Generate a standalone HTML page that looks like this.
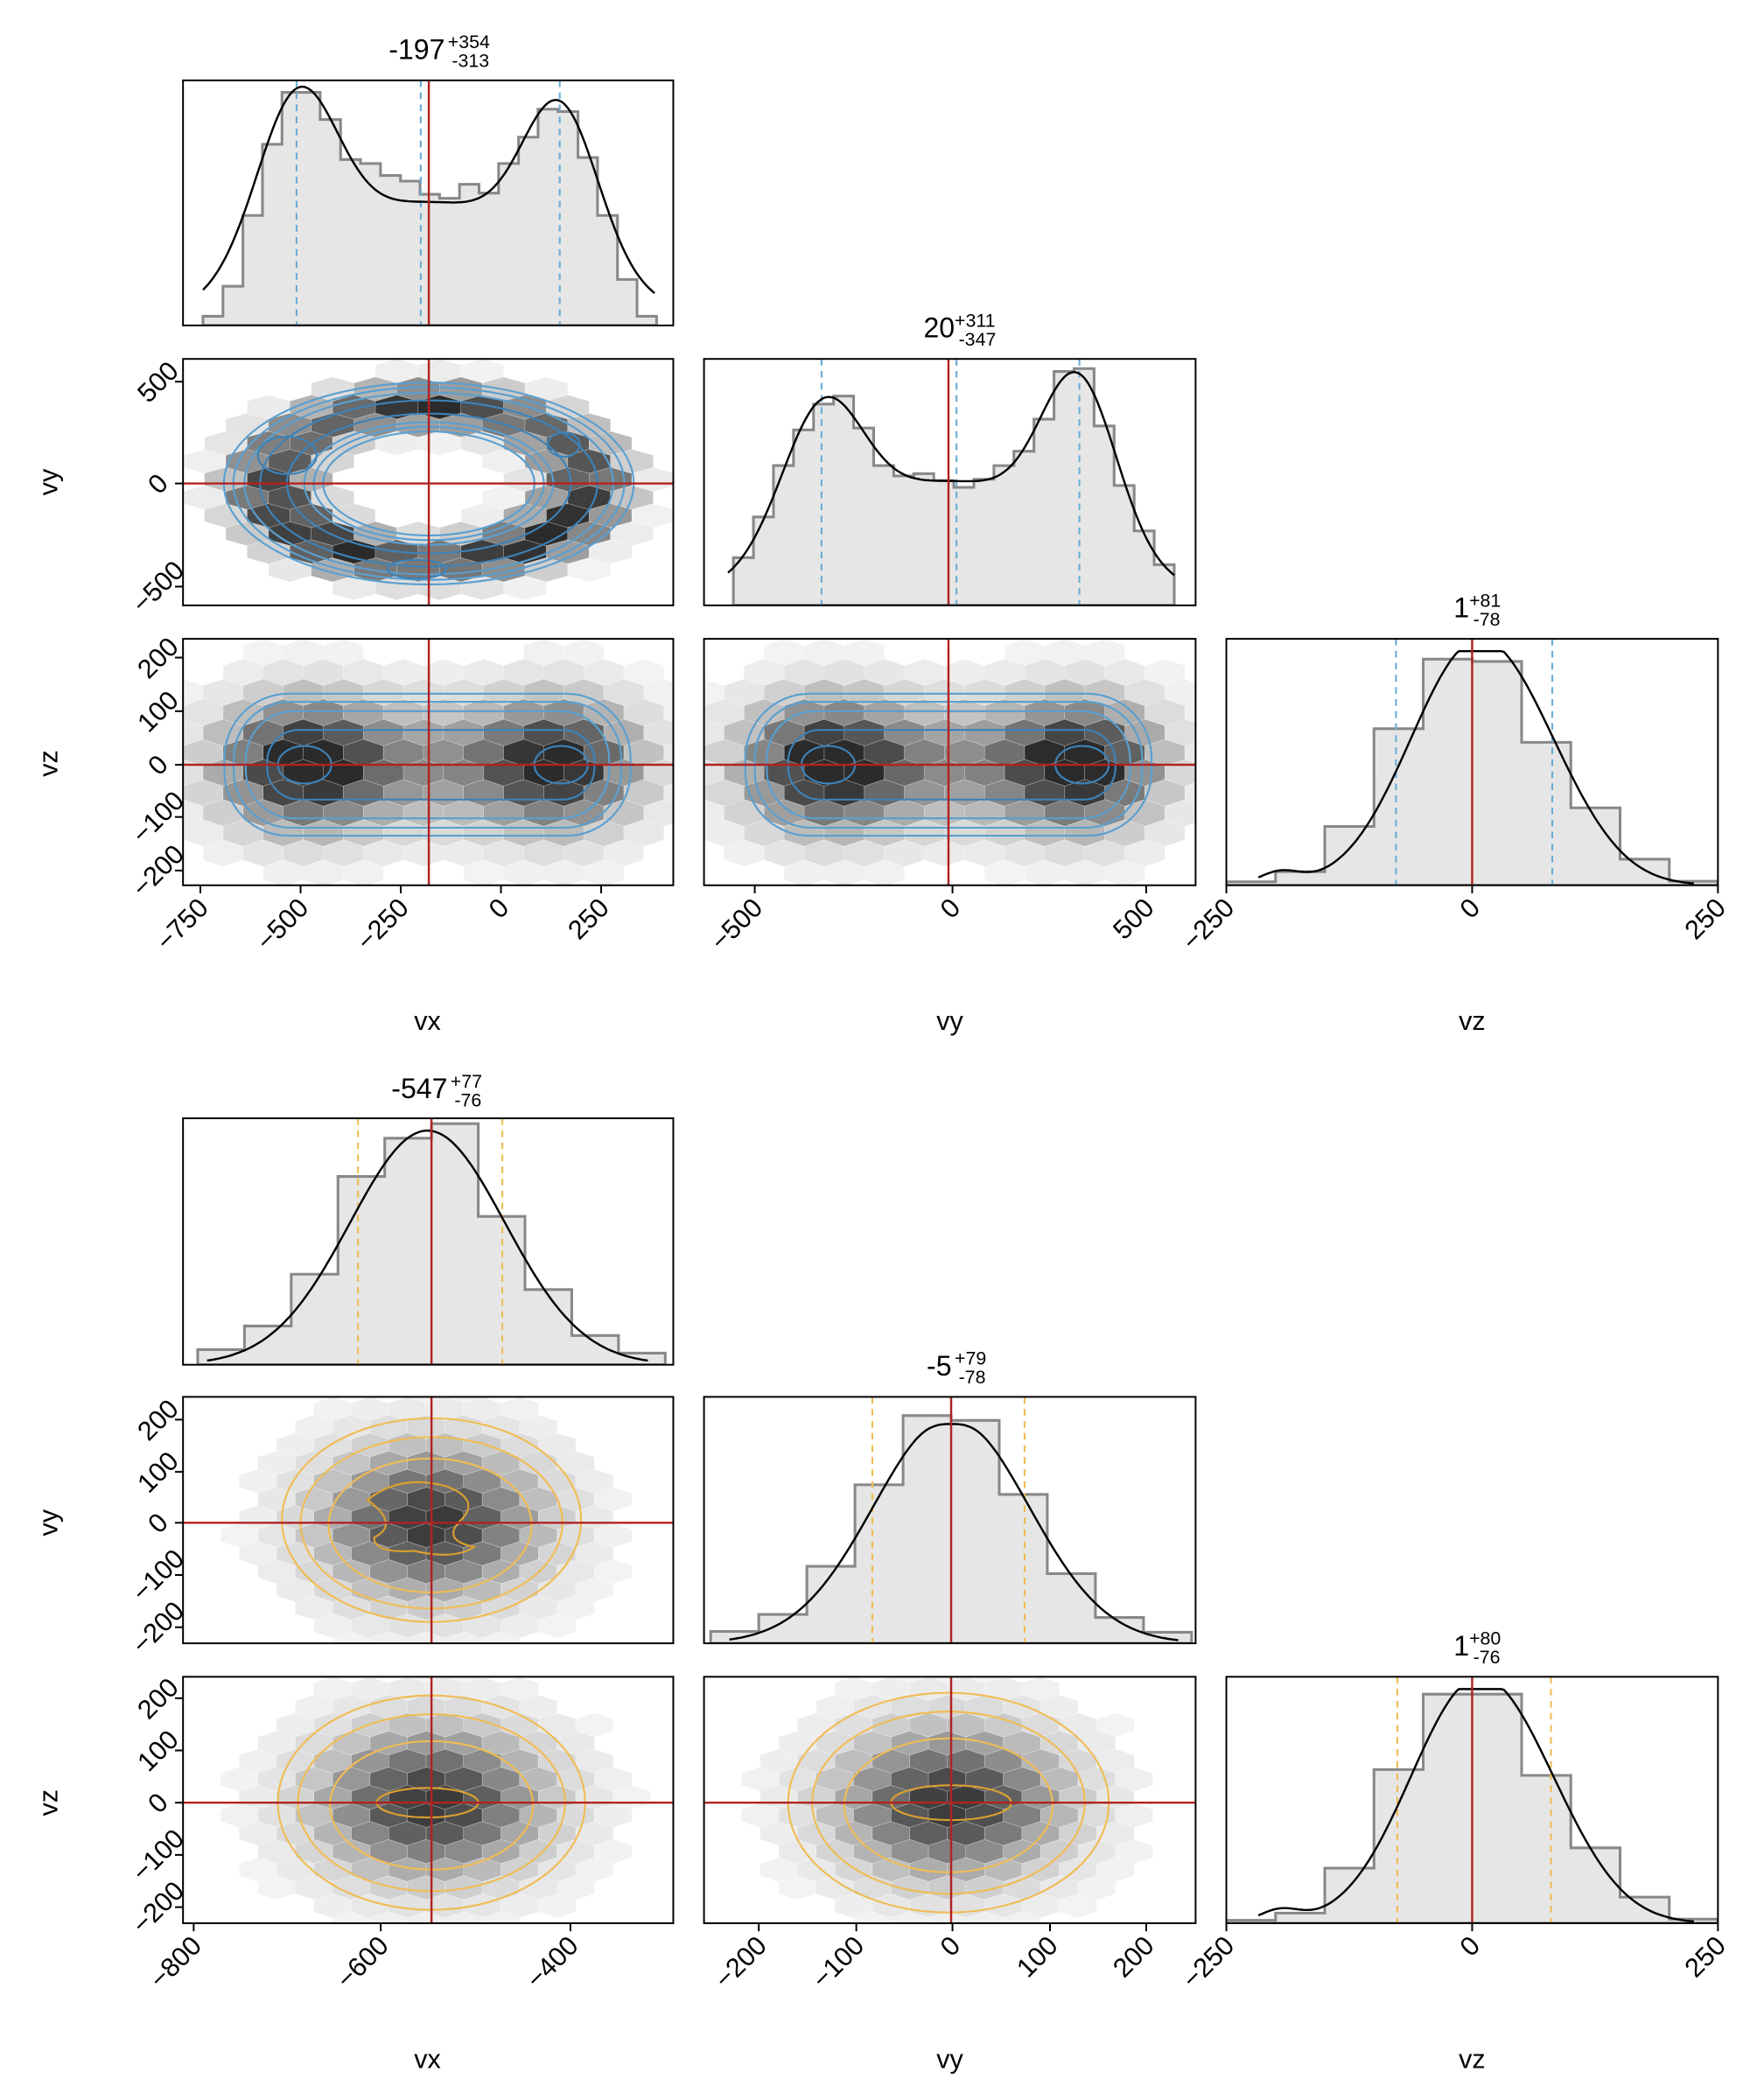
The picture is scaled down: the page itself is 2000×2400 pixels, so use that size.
<!DOCTYPE html>
<html><head><meta charset="utf-8"><style>html,body{margin:0;padding:0;background:#fff}svg{display:block}text{font-family:"Liberation Sans",sans-serif}</style></head>
<body>
<svg id="s" xmlns="http://www.w3.org/2000/svg" width="2000" height="2400" viewBox="0 0 1310 1568" preserveAspectRatio="none"></svg>
<script>
const S=document.getElementById('s');let H='';let cid=0;
const RED='#b22222',BL='#5a9fd0',BLD='#3d82b8',OR='#f0bc55',ORD='#d9a030';
const C=[[137,504],[527,895],[918,1286]];
const RT=[[60,243],[268,452],[477,661]],RB=[[835,1019],[1043,1227],[1252,1436]];
function clip(x0,y0,x1,y1){cid++;H+=`<clipPath id="c${cid}"><rect x="${x0}" y="${y0}" width="${x1-x0}" height="${y1-y0}"/></clipPath>`;return `c${cid}`;}
function frame(x0,y0,x1,y1){H+=`<rect x="${x0}" y="${y0}" width="${x1-x0}" height="${y1-y0}" fill="none" stroke="#000" stroke-width="1.3"/>`;}
function gauss(x,m,s){return Math.exp(-(x-m)*(x-m)/(2*s*s));}
function hexes(x0,y0,x1,y1,w,h,f){let id=clip(x0,y0,x1,y1);let o=`<g clip-path="url(#${id})">`;
 let r=0;for(let y=y0-h;y<y1+h;y+=h*0.75,r++){for(let x=x0-w+(r%2?w/2:0);x<x1+w;x+=w){let d=f(x,y);if(d<0.04)continue;d=Math.min(1,d);
 let g=Math.round(248-Math.pow(d,1.15)*205);let c=`rgb(${g},${g},${g})`;
 let p=[[x-w/2,y-h/4],[x,y-h/2],[x+w/2,y-h/4],[x+w/2,y+h/4],[x,y+h/2],[x-w/2,y+h/4]].map(a=>a[0].toFixed(1)+','+a[1].toFixed(1)).join(' ');
 o+=`<polygon points="${p}" fill="${c}" stroke="#fff" stroke-width="0.3" stroke-opacity="0.5"/>`;}}
 H+=o+'</g>';}
function hist(x0,y0,x1,y1,bins,curve,dash,dcol,redx){
 let id=clip(x0,y0,x1,y1);let o=`<g clip-path="url(#${id})">`;let ht=y1-y0;
 let p=`M${bins[0][0]},${y1}`;for(const b of bins){let y=y1-b[2]*ht;p+=` L${b[0]},${y} L${b[1]},${y}`;}p+=` L${bins[bins.length-1][1]},${y1} Z`;
 o+=`<path d="${p}" fill="#e6e6e6" stroke="#888" stroke-width="2"/>`;
 for(const dx of dash)o+=`<line x1="${dx}" y1="${y0}" x2="${dx}" y2="${y1}" stroke="${dcol}" stroke-width="1.4" stroke-dasharray="5,4"/>`;
 let cp='';for(let i=0;i<curve.length;i++)cp+=(i?' L':'M')+curve[i][0].toFixed(1)+','+(y1-curve[i][1]*ht).toFixed(1);
 o+=`<path d="${cp}" fill="none" stroke="#000" stroke-width="1.6"/>`;
 o+=`<line x1="${redx}" y1="${y0}" x2="${redx}" y2="${y1}" stroke="${RED}" stroke-width="1.6"/>`;
 H+=o+'</g>';frame(x0,y0,x1,y1);}
function curveF(xa,xb,f){let a=[];for(let x=xa;x<=xb;x+=2)a.push([x,f(x)]);return a;}
function binsF(xa,w,n,f){let a=[];for(let i=0;i<n;i++){let c=xa+w*(i+.5);a.push([xa+w*i,xa+w*(i+1),f(c)]);}return a;}
function redcross(x0,y0,x1,y1,rx,ry){H+=`<line x1="${rx}" y1="${y0}" x2="${rx}" y2="${y1}" stroke="${RED}" stroke-width="1.6"/><line x1="${x0}" y1="${ry}" x2="${x1}" y2="${ry}" stroke="${RED}" stroke-width="1.6"/>`;}
function ell(cx,cy,rx,ry,col,sw){H+=`<ellipse cx="${cx}" cy="${cy}" rx="${rx}" ry="${ry}" fill="none" stroke="${col}" stroke-width="${sw||1.4}"/>`;}
function rr(x0,y0,x1,y1,r,col,sw){H+=`<rect x="${x0}" y="${y0}" width="${x1-x0}" height="${y1-y0}" rx="${r}" ry="${r}" fill="none" stroke="${col}" stroke-width="${sw||1.4}"/>`;}
function title(cx,y,m,p,n){let w=m.length*5.8;H+=`<text x="${cx-8}" y="${y}" font-size="21" text-anchor="middle">${m}</text><text x="${cx-8+w}" y="${y-8}" font-size="14">${p}</text><text x="${cx-8+w+3}" y="${y+6}" font-size="14">${n}</text>`;}
function xtick(x,y,l){H+=`<line x1="${x}" y1="${y}" x2="${x}" y2="${y+6}" stroke="#000" stroke-width="1.3"/><text transform="translate(${x+7},${y+18}) rotate(-45)" font-size="20" text-anchor="end">${l}</text>`;}
function ytick(x,y,l){H+=`<line x1="${x}" y1="${y}" x2="${x-6}" y2="${y}" stroke="#000" stroke-width="1.3"/><text transform="translate(${x-14},${y+5}) rotate(-45)" font-size="20" text-anchor="middle">${l}</text>`;}

// ===== TOP GROUP =====
{let zx=[452,497,542,586,630,673,716,762,807,852,897,941,985,1030,1074,1118,1163,1207,1252,1297,1341,1386,1430,1474];
 let zy=[790,715,538,360,230,230,298,398,408,438,452,485,495,460,482,408,342,272,278,393,538,698,790];
 let b=[];for(let i=0;i<zy.length;i++)b.push([137+(zx[i]-407)/3.01,137+(zx[i+1]-407)/3.01,(813-zy[i])/613]);
 let cv=curveF(152,490,x=>0.68*gauss(x,222,30)+0.62*gauss(x,420,28)+0.5*gauss(x,322,95));
 hist(137,60,504,243,b,cv,[222,315,419],'#6baed6',321);}
title(320,44,'-197','+354','-313');
{let f=x=>0.55*gauss(x,615,30)+0.65*gauss(x,808,28)+0.5*gauss(x,712,92);
 let b=binsF(549,15,22,x=>Math.min(0.97,f(x)*(1+0.05*Math.sin(x/9))));
 hist(527,268,895,452,b,curveF(545,880,f),[615,716,808],'#6baed6',710);}
title(711,252,'20','+311','-347');
{let zx=[90,230,370,510,650,790,930,1070,1210,1350,1488],zy=[1078,1043,887,550,310,318,597,823,1000,1076];
 let b=[];for(let i=0;i<zy.length;i++)b.push([918+(zx[i]-90)/3.8,918+(zx[i+1]-90)/3.8,(1090-zy[i])/850]);
 let f=x=>0.93*gauss(x,1102,48)+0.18*gauss(x,1160,40)+0.05*gauss(x,958,15);
 hist(918,477,1286,661,b,curveF(942,1268,x=>Math.min(f(x),0.95)),[1045,1162],'#6baed6',1102);}
title(1102,461,'1','+81','-78');
{let [x0,x1]=C[0],[y0,y1]=RT[1];
 hexes(x0,y0,x1,y1,32,18,(x,y)=>{let r=Math.hypot((x-321)/118,(y-361)/58);return 0.9*gauss(r,1,0.2)*(1+0.15*Math.sin(3*Math.atan2(y-361,x-321)));});
 const rs=[[1.3,BL],[1.24,BL],[1.17,BL],[1.07,BLD],[0.9,BLD],[0.79,BL],[0.73,BL],[0.67,BL]];
 for(const [r,c] of rs)ell(321,361,118*r,58*r,c);
 ell(215,340,22,14,BLD);ell(422,332,12,9,BLD);ell(312,425,22,7,BLD);
 redcross(x0,y0,x1,y1,321,361);frame(x0,y0,x1,y1);}
{let [x0,x1]=C[0],[y0,y1]=RT[2];
 hexes(x0,y0,x1,y1,30,20,(x,y)=>(0.85*gauss(x,225,40)+0.8*gauss(x,420,38)+0.5*gauss(x,320,95))*gauss(y,571,34));
 rr(168,518,472,624,48,BL);rr(175,524,465,618,42,BL);rr(184,531,456,611,36,BL);rr(200,545,445,597,24,BLD);
 ell(228,571,20,14,BLD);ell(420,571,20,14,BLD);
 redcross(x0,y0,x1,y1,321,571);frame(x0,y0,x1,y1);}
{let [x0,x1]=C[1],[y0,y1]=RT[2];
 hexes(x0,y0,x1,y1,30,20,(x,y)=>(0.85*gauss(x,617,40)+0.85*gauss(x,810,38)+0.5*gauss(x,712,95))*gauss(y,571,34));
 rr(558,518,862,624,48,BL);rr(565,524,855,618,42,BL);rr(574,531,846,611,36,BL);rr(590,545,835,597,24,BLD);
 ell(620,571,20,14,BLD);ell(810,571,20,14,BLD);
 redcross(x0,y0,x1,y1,710,571);frame(x0,y0,x1,y1);}
[[285,'500'],[361,'0'],[438,'−500']].forEach(t=>ytick(137,t[0],t[1]));
[[491,'200'],[531,'100'],[571,'0'],[610,'−100'],[650,'−200']].forEach(t=>ytick(137,t[0],t[1]));
[[150,'−750'],[225,'−500'],[300,'−250'],[375,'0'],[450,'250']].forEach(t=>xtick(t[0],661,t[1]));
[[565,'−500'],[713,'0'],[858,'500']].forEach(t=>xtick(t[0],661,t[1]));
[[918,'−250'],[1102,'0'],[1286,'250']].forEach(t=>xtick(t[0],661,t[1]));
H+=`<text x="320" y="769" font-size="20" text-anchor="middle">vx</text><text x="711" y="769" font-size="20" text-anchor="middle">vy</text><text x="1102" y="769" font-size="20" text-anchor="middle">vz</text>`;
H+=`<text transform="translate(43,360) rotate(-90)" font-size="20" text-anchor="middle">vy</text><text transform="translate(43,570) rotate(-90)" font-size="20" text-anchor="middle">vz</text>`;

// ===== BOTTOM GROUP =====
{let f=x=>0.97*gauss(x,318,58)+0.03;let b=binsF(148,35,10,x=>f(x)*(1+0.06*Math.sin(x/13)));
 hist(137,835,504,1019,b,curveF(155,485,x=>0.95*gauss(x,320,58)),[268,376],OR,323);}
title(322,820,'-547','+77','-76');
{let f=x=>0.93*gauss(x,710,57);let b=binsF(532,36,10,x=>Math.min(0.95,f(x)+0.03));
 hist(527,1043,895,1227,b,curveF(546,882,x=>0.92*gauss(x,712,58)-0.03*gauss(x,712,12)),[653,767],OR,712);}
title(711,1027,'-5','+79','-78');
{let zx=[90,230,370,510,650,790,930,1070,1210,1350,1488],zy=[1080,1055,900,560,300,300,580,830,1000,1076];
 let b=[];for(let i=0;i<zy.length;i++)b.push([918+(zx[i]-90)/3.8,918+(zx[i+1]-90)/3.8,(1090-zy[i])/850]);
 let f=x=>0.93*gauss(x,1102,48)+0.18*gauss(x,1160,40)+0.05*gauss(x,958,15);
 hist(918,1252,1286,1436,b,curveF(942,1268,x=>Math.min(f(x),0.95)),[1046,1161],OR,1102);}
title(1102,1236,'1','+80','-76');
{let [x0,x1]=C[0],[y0,y1]=RB[1];
 hexes(x0,y0,x1,y1,28,18,(x,y)=>0.95*gauss(x,323,58)*gauss(y,1137,40));
 ell(323,1135,112,76,OR);ell(323,1137,98,64,OR);ell(322,1139,76,50,OR);
 H+=`<path d="M275,1120 Q300,1100 335,1110 Q360,1120 345,1135 Q330,1150 355,1155 Q340,1165 310,1158 Q280,1160 280,1148 Q300,1138 275,1120Z" fill="none" stroke="${ORD}" stroke-width="1.4"/>`;
 redcross(x0,y0,x1,y1,323,1137);frame(x0,y0,x1,y1);}
{let [x0,x1]=C[0],[y0,y1]=RB[2];
 hexes(x0,y0,x1,y1,28,18,(x,y)=>0.95*gauss(x,323,60)*gauss(y,1346,40));
 ell(323,1346,115,80,OR);ell(323,1346,100,66,OR);ell(323,1348,76,48,OR);ell(320,1346,38,11,ORD);
 redcross(x0,y0,x1,y1,323,1346);frame(x0,y0,x1,y1);}
{let [x0,x1]=C[1],[y0,y1]=RB[2];
 hexes(x0,y0,x1,y1,28,18,(x,y)=>0.95*gauss(x,712,60)*gauss(y,1346,40));
 ell(710,1346,120,82,OR);ell(710,1346,102,68,OR);ell(710,1348,78,50,OR);ell(712,1346,45,13,ORD);
 redcross(x0,y0,x1,y1,712,1346);frame(x0,y0,x1,y1);}
[[1060,'200'],[1099,'100'],[1137,'0'],[1176,'−100'],[1215,'−200']].forEach(t=>ytick(137,t[0],t[1]));
[[1268,'200'],[1307,'100'],[1346,'0'],[1385,'−100'],[1424,'−200']].forEach(t=>ytick(137,t[0],t[1]));
[[145,'−800'],[285,'−600'],[427,'−400']].forEach(t=>xtick(t[0],1436,t[1]));
[[568,'−200'],[641,'−100'],[713,'0'],[786,'100'],[858,'200']].forEach(t=>xtick(t[0],1436,t[1]));
[[918,'−250'],[1102,'0'],[1286,'250']].forEach(t=>xtick(t[0],1436,t[1]));
H+=`<text x="320" y="1544" font-size="20" text-anchor="middle">vx</text><text x="711" y="1544" font-size="20" text-anchor="middle">vy</text><text x="1102" y="1544" font-size="20" text-anchor="middle">vz</text>`;
H+=`<text transform="translate(43,1137) rotate(-90)" font-size="20" text-anchor="middle">vy</text><text transform="translate(43,1346) rotate(-90)" font-size="20" text-anchor="middle">vz</text>`;
S.innerHTML=H;
</script>
</body></html>
